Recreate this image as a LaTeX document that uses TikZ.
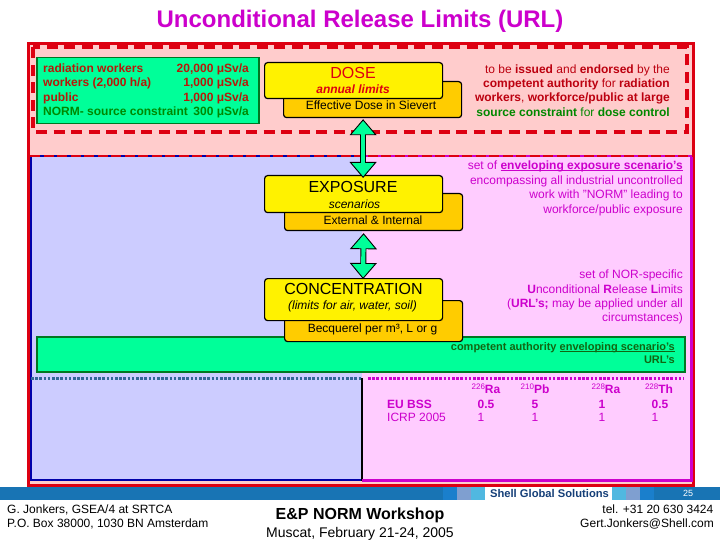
\documentclass[tikz,border=0pt]{standalone}
\usepackage{fontspec}
\setmainfont{Liberation Sans}
\usetikzlibrary{arrows.meta,calc}
\newcommand{\fsz}[1]{\fontsize{#1}{#1}\selectfont}
\newcommand{\ulx}[1]{\setbox0\hbox{#1}\rlap{\rule[-1.6pt]{\wd0}{0.9pt}}\box0 }
\definecolor{ttl}{HTML}{CC00CC}
\definecolor{redd}{HTML}{DD0011}
\definecolor{pinkbg}{HTML}{FFCCCC}
\definecolor{lav}{HTML}{CCCCFF}
\definecolor{mag}{HTML}{FFCCFF}
\definecolor{navyb}{HTML}{0000AA}
\definecolor{aqua}{HTML}{00FF99}
\definecolor{dgreen}{HTML}{007722}
\definecolor{txtred}{HTML}{B81808}
\definecolor{txtgreen}{HTML}{008800}
\definecolor{oran}{HTML}{FFCC00}
\definecolor{band}{HTML}{1874B4}
\definecolor{shellb}{HTML}{153F78}
\definecolor{dotblue}{HTML}{336699}
\definecolor{darkg}{HTML}{116611}
\definecolor{bandA}{HTML}{1A7FCC}
\definecolor{bandB}{HTML}{7F9FD0}
\definecolor{bandC}{HTML}{50B8E0}
\tikzset{
 x=1pt,y=-1pt,
 box/.style={draw=black,line width=1.2pt,rounded corners=3pt,inner sep=0pt,minimum width=178,anchor=north west},
 topbox/.style={box,fill=yellow},
 subbox/.style={box,fill=oran},
 lbl/.style={inner sep=0pt,text height=8.6pt,text depth=0pt},
 big/.style={lbl,font=\fsz{16},text height=11.5pt},
 t12/.style={lbl,font=\fsz{12}},
 gtxt/.style={lbl,font=\fsz{12}\bfseries,text=txtred},
 rtxt/.style={t12,anchor=east,text=redd!85!black},
 mtxt/.style={t12,anchor=east,text=ttl},
 tbl/.style={t12,text=ttl},
 arrowout/.style={line width=6pt,{Triangle[length=16pt,width=27pt,line width=0.9pt,fill=aqua]}-{Triangle[length=16pt,width=27pt,line width=0.9pt,fill=aqua]}},
 arrowin/.style={line width=4.2pt,draw=aqua,shorten >=14pt,shorten <=14pt},
 dotline/.style={line width=3pt,dash pattern=on 2.6pt off 1.6pt},
}
\begin{document}
\begin{tikzpicture}
\useasboundingbox (0,0) rectangle (720,540);
\fill[white] (0,0) rectangle (720,540);
\node[lbl,font=\fsz{24}\bfseries,text=ttl,text height=17pt] (title) at (360,19) {Unconditional Release Limits (URL)};
% panels
\draw[redd,line width=3pt,fill=pinkbg] (28.5,43.5) rectangle (693.5,485.5);
\draw[redd,line width=4pt,dash pattern=on 11pt off 6.5pt] (33,47.5) rectangle (687,132);
\fill[lav] (31,156) rectangle (362,480);
\fill[mag] (362,156) rectangle (692,480);
\draw[navyb,line width=2.5pt] (31,156) -- (31,480) -- (362,480);
\draw[black,line width=2.5pt] (362,378) -- (362,481);
\draw[ttl,line width=3pt] (362,480) -- (691.5,480) -- (691.5,156);
\draw[navyb,line width=2.5pt] (30,156) -- (362,156);
\draw[ttl,line width=2.5pt] (362,156) -- (692,156);
\draw[redd,line width=2.5pt,dash pattern=on 10pt off 3.5pt] (30,156) -- (692,156);
% green boxes
\node[draw=dgreen,fill=aqua,line width=1.5pt,minimum width=222,minimum height=66,inner sep=0pt,anchor=north west] (limits) at (36,57) {};
\node[draw=dgreen,fill=aqua,line width=1.5pt,minimum width=648,minimum height=35,inner sep=0pt,anchor=north west] (bar) at (36,336) {};
\draw[dotblue,dotline] (31,378) -- (362,378);
\draw[ttl,dotline] (368,378) -- (684,378);
\node[gtxt,anchor=west] (g1) at (43,68) {radiation workers};
\node[gtxt,anchor=east] (g1v) at (249,68) {20,000 μSv/a};
\node[gtxt,anchor=west] (g2) at (43,82.5) {workers (2,000 h/a)};
\node[gtxt,anchor=east] (g2v) at (249,82.5) {1,000 μSv/a};
\node[gtxt,anchor=west] (g3) at (43,97) {public};
\node[gtxt,anchor=east] (g3v) at (249,97) {1,000 μSv/a};
\node[gtxt,anchor=west,text=txtgreen] (g4) at (43,111.5) {NORM- source constraint};
\node[gtxt,anchor=east,text=txtgreen] (g4v) at (249,111.5) {300 μSv/a};
% stack boxes (lower layers first)
\node[subbox,minimum height=36] (doseSub) at (283,81) {};
\node[subbox,minimum height=37] (expoSub) at (284,193) {};
\node[subbox,minimum height=41] (concSub) at (284,300) {};
\node[topbox,minimum height=36] (doseTop) at (264,62) {};
\node[topbox,minimum height=37] (expoTop) at (264,175) {};
\node[topbox,minimum height=42] (concTop) at (264,278) {};
\coordinate (a1) at ([xshift=-9.5pt,yshift=-1pt]doseSub.south);
\coordinate (a2) at ([xshift=9.5pt,yshift=-3pt]expoTop.north);
\coordinate (a3) at ([xshift=-10pt,yshift=-2pt]expoSub.south);
\coordinate (a4) at ([xshift=9.5pt,yshift=-1pt]concTop.north);
\draw[arrowout] (a1) -- (a2);
\draw[arrowin] (a1) -- (a2);
\draw[arrowout] (a3) -- (a4);
\draw[arrowin] (a3) -- (a4);
\node[big,text=redd] (dose) at (353,73) {DOSE};
\node[lbl,font=\fsz{12}\bfseries\itshape,text=redd] (annual) at (353,89) {annual limits};
\node[t12] (eff) at (371,105) {Effective Dose in Sievert};
\node[big] (expo) at (353,187) {EXPOSURE};
\node[lbl,font=\fsz{12}\itshape] (scen) at (354.5,204) {scenarios};
\node[t12] (ext) at (373,220.5) {External \& Internal};
\node[big] (conc) at (353.5,289) {CONCENTRATION};
\node[lbl,font=\fsz{12}\itshape] (lim) at (352.5,305.5) {(limits for air, water, soil)};
\node[t12] (bq) at (372.5,328) {Becquerel per m³, L or g};
% right text 1
\node[rtxt] (r1) at (670,69) {to be \textbf{issued} and \textbf{endorsed} by the};
\node[rtxt] (r2) at (670,83) {\textbf{competent authority} for \textbf{radiation}};
\node[rtxt] (r3) at (670,97.5) {\textbf{workers}, \textbf{workforce/public at large}};
\node[rtxt,text=txtgreen] (r4) at (670,112) {\textbf{source constraint} for \textbf{dose control}};
% right text 2
\node[mtxt] (m1) at (683,165) {set of \textbf{\ulx{enveloping exposure scenario’s}}};
\node[mtxt] (m2) at (683,180) {encompassing all industrial uncontrolled};
\node[mtxt] (m3) at (683,194.5) {work with "NORM" leading to};
\node[mtxt] (m4) at (683,209) {workforce/public exposure};
% right text 3
\node[mtxt] (n1) at (683,274.5) {set of NOR-specific};
\node[mtxt] (n2) at (683,289.5) {\textbf{U}nconditional \textbf{R}elease \textbf{L}imits};
\node[mtxt] (n3) at (683,303.5) {(\textbf{URL’s;} may be applied under all};
\node[mtxt] (n4) at (683,317.5) {circumstances)};
% bar text
\node[lbl,anchor=east,font=\fsz{11}\bfseries,text=darkg,text height=8pt] (c1) at (675,346) {competent authority \ulx{enveloping scenario’s}};
\node[lbl,anchor=east,font=\fsz{11}\bfseries,text=darkg,text height=8pt] (c2) at (675,359) {URL’s};
% table
\newcommand{\iso}[2]{\raisebox{3.5pt}{\fsz{8}#1}\textbf{#2}}
\node[tbl] (h1) at (486,389) {\iso{226}{Ra}};
\node[tbl] (h2) at (535,389) {\iso{210}{Pb}};
\node[tbl] (h3) at (606,389) {\iso{228}{Ra}};
\node[tbl] (h4) at (659,389) {\iso{228}{Th}};
\node[tbl,anchor=west,font=\fsz{12}\bfseries] (eu) at (387,404) {EU BSS};
\node[tbl,font=\fsz{12}\bfseries] (e1) at (486,404) {0.5};
\node[tbl,font=\fsz{12}\bfseries] (e2) at (535,404) {5};
\node[tbl,font=\fsz{12}\bfseries] (e3) at (602,404) {1};
\node[tbl,font=\fsz{12}\bfseries] (e4) at (660,404) {0.5};
\node[tbl,anchor=west] (ic) at (387,417.5) {ICRP 2005};
\node[tbl] (i1) at (481,417.5) {1};
\node[tbl] (i2) at (535,417.5) {1};
\node[tbl] (i3) at (602,417.5) {1};
\node[tbl] (i4) at (655,417.5) {1};
% footer band
\fill[band] (0,487) rectangle (720,500);
\fill[bandA] (443,487) rectangle (457,500);
\fill[bandB] (457,487) rectangle (471,500);
\fill[bandC] (471,487) rectangle (485,500);
\fill[white] (485,487) rectangle (612,500);
\fill[bandC] (612,487) rectangle (626,500);
\fill[bandB] (626,487) rectangle (640,500);
\fill[bandA] (640,487) rectangle (654,500);
\node[lbl,font=\fsz{11.2}\bfseries,text=shellb,text height=8pt] (shell) at (549.5,493.5) {Shell Global Solutions};
\node[lbl,font=\fsz{9},text=white,text height=6.5pt] (pg) at (688,493.5) {25};
\node[t12,anchor=west] (f1) at (7,509) {G. Jonkers, GSEA/4 at SRTCA};
\node[t12,anchor=west] (f2) at (7,523.5) {P.O. Box 38000, 1030 BN Amsterdam};
\node[big,font=\fsz{16}\bfseries] (f3) at (360,514) {E\&P NORM Workshop};
\node[lbl,font=\fsz{14},text height=10pt] (f4) at (360,532) {Muscat, February 21-24, 2005};
\node[t12,anchor=east] (f5) at (713.5,509) {tel. +31 20 630 3424};
\node[t12,anchor=east] (f6) at (714,523.5) {Gert.Jonkers@Shell.com};
\end{tikzpicture}
\end{document}
